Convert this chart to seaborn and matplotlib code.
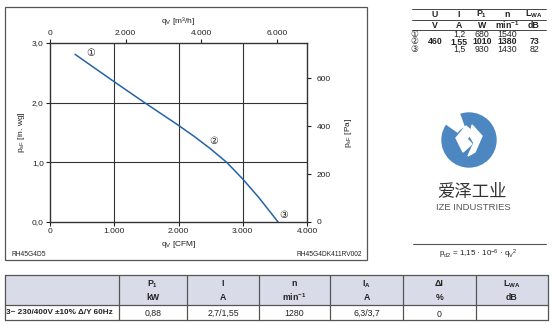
import numpy as np
import pandas as pd
import matplotlib
matplotlib.use("Agg")
import matplotlib.pyplot as plt
import seaborn as sns
from matplotlib.patches import Rectangle, Circle, Wedge, Polygon
from matplotlib.lines import Line2D

# ---------------- data ----------------
flow_cfm = [390, 1000, 1500, 2000, 2250, 2500, 2750, 3000, 3250, 3550]
pressure_inwg = [2.81, 2.35, 1.98, 1.62, 1.43, 1.225, 1.0, 0.72, 0.41, 0.0]

x_ticks_cfm = [0, 1000, 2000, 3000, 4000]
x_ticklabels_cfm = ["0", "1.000", "2.000", "3.000", "4.000"]
y_ticks_inwg = [0, 1, 2, 3]
y_ticklabels_inwg = ["0,0", "1,0", "2,0", "3,0"]
top_ticks_m3h = [0, 2000, 4000, 6000]
top_ticklabels_m3h = ["0", "2.000", "4.000", "6.000"]
right_ticks_pa = [0, 200, 400, 600]
right_ticklabels_pa = ["0", "200", "400", "600"]

point_labels = ["\u2460", "\u2461", "\u2462"]
point_label_cfm = [630, 2540, 3630]
point_label_inwg = [2.83, 1.36, 0.12]

tr_header = ["U", "I", r"P$_\mathregular{1}$", "n", r"L$_\mathregular{WA}$"]
tr_units = ["V", "A", "W", r"min$^\mathregular{-1}$", "dB"]
tr_rows = [
    ["", "1,2", "680", "1540", ""],
    ["460", "1,55", "1010", "1380", "73"],
    ["", "1,5", "930", "1430", "82"],
]

bt_header1 = ["", r"P$_\mathregular{1}$", "I", "n", r"I$_\mathregular{A}$", "\u0394I", r"L$_\mathregular{WA}$"]
bt_header2 = ["", "kW", "A", r"min$^\mathregular{-1}$", "A", "%", "dB"]
bt_row = ["3~ 230/400V \u00b110% \u0394/Y 60Hz", "0,88", "2,7/1,55", "1280", "6,3/3,7", "0", ""]

CFM_TO_M3H = 1.699
INWG_TO_PA = 249.09

# ---------------- figure ----------------
sns.set_style("white")
plt.rcParams["font.family"] = ["Liberation Sans", "DejaVu Sans", "Noto Sans CJK SC"]
plt.rcParams["mathtext.fontset"] = "custom"
plt.rcParams["mathtext.rm"] = "Liberation Sans"
plt.rcParams["mathtext.it"] = "Liberation Sans:italic"
plt.rcParams["mathtext.bf"] = "Liberation Sans:bold"
W, H = 553, 326
fig = plt.figure(figsize=(W / 100, H / 100), dpi=100)

# overlay in pixel coordinates
ov = fig.add_axes([0, 0, 1, 1], zorder=0)
ov.set_xlim(0, W)
ov.set_ylim(H, 0)
ov.axis("off")

TXT = "#222222"
FS = 6.0
TFS = 6.3

# main axes: pixels left 50, right 307, top 43, bottom 222
L, R, T, B = 50, 307, 43, 222
ax = fig.add_axes([L / W, (H - B) / H, (R - L) / W, (B - T) / H], zorder=2)
df = pd.DataFrame({"cfm": flow_cfm, "inwg": pressure_inwg})
sns.lineplot(data=df, x="cfm", y="inwg", ax=ax, color="#2463a5", linewidth=1.1, sort=False)
ax.set_xlim(0, 4000)
ax.set_ylim(0, 3)
ax.set_xticks(x_ticks_cfm)
ax.set_xticklabels(x_ticklabels_cfm)
ax.set_yticks(y_ticks_inwg)
ax.set_yticklabels(y_ticklabels_inwg)
ax.set_xlabel(r"q$_\mathregular{V}$ [CFM]", fontsize=FS, color=TXT, labelpad=3)
ax.set_ylabel(r"p$_\mathregular{sF}$ [in. wg]", fontsize=FS, color=TXT, labelpad=3.5)
ax.tick_params(axis="both", labelsize=FS, colors=TXT, length=3, width=0.8, pad=1.5, direction="out")
ax.tick_params(axis="x", bottom=True)
ax.tick_params(axis="y", left=True)
for v in [1000, 2000, 3000]:
    ax.axvline(v, color="#333333", linewidth=0.8, zorder=0)
for v in [1, 2]:
    ax.axhline(v, color="#333333", linewidth=0.8, zorder=0)
for s in ax.spines.values():
    s.set_color("#333333")
    s.set_linewidth(1.0)

for lab, xv, yv in zip(point_labels, point_label_cfm, point_label_inwg):
    ax.text(xv, yv, lab, fontsize=7, ha="center", va="center", color=TXT, family="DejaVu Sans")

top = ax.secondary_xaxis("top", functions=(lambda x: x * CFM_TO_M3H, lambda x: x / CFM_TO_M3H))
top.set_xticks(top_ticks_m3h)
top.set_xticklabels(top_ticklabels_m3h)
top.tick_params(labelsize=FS, colors=TXT, length=3, width=0.8, pad=1.5)
top.set_xlabel(r"q$_\mathregular{V}$ [m³/h]", fontsize=FS, color=TXT, labelpad=5)
top.spines["top"].set_visible(False)

right = ax.secondary_yaxis("right", functions=(lambda y: y * INWG_TO_PA, lambda y: y / INWG_TO_PA))
right.set_yticks(right_ticks_pa)
right.set_yticklabels(right_ticklabels_pa)
right.tick_params(labelsize=FS, colors=TXT, length=3, width=0.8, pad=4)
right.set_ylabel(r"p$_\mathregular{sF}$ [Pa]", fontsize=FS, color=TXT, labelpad=9)
right.spines["right"].set_visible(False)

# outer box
ov.add_patch(Rectangle((4.5, 7), 362.5, 253, fill=False, edgecolor="#555555", linewidth=0.9))
ov.text(12, 254, "RH45G4D5", fontsize=4.8, color=TXT, ha="left", va="center")
ov.text(362, 254, "RH45G4DK411RV002", fontsize=4.8, color=TXT, ha="right", va="center")

# top-right table
tcols = [435, 459, 482, 507, 534]
for y in [9, 20, 30]:
    ov.add_line(Line2D([412, 546], [y, y], color="#444444", linewidth=0.7))
for cx, h, u in zip(tcols, tr_header, tr_units):
    ov.text(cx, 14.5, h, fontsize=TFS, fontweight="bold", ha="center", va="center", color=TXT)
    ov.text(cx, 25.5, u, fontsize=TFS, fontweight="bold", ha="center", va="center", color=TXT)
row_y = [34.5, 42, 49.5]
for i, (ry, row) in enumerate(zip(row_y, tr_rows)):
    ov.text(414, ry, point_labels[i], fontsize=6.3, ha="center", va="center", color=TXT, family="DejaVu Sans")
    for cx, v in zip(tcols, row):
        ov.text(cx, ry, v, fontsize=TFS, ha="center", va="center", color=TXT,
                fontweight="bold" if i == 1 else "normal")

# logo
cx0, cy0, r0 = 469, 140, 27
blue = "#4d87c2"
ov.add_patch(Circle((cx0, cy0), r0, color=blue, zorder=1))
ov.add_patch(Wedge((cx0, cy0), r0 + 1, 215, 250, width=14, color="white", zorder=2))
ov.add_patch(Polygon([(cx0 - 13, cy0 - 2), (cx0 - 3, cy0 - 14), (cx0 + 4, cy0 - 8),
                      (cx0 - 2, cy0 - 1), (cx0 + 3, cy0 + 4), (cx0 - 6, cy0 + 12)],
                     closed=True, color="white", zorder=2))
ov.add_patch(Polygon([(cx0 + 3, cy0 - 15), (cx0 + 13, cy0 - 4), (cx0 + 6, cy0 + 12),
                      (cx0 - 1, cy0 + 16), (cx0 + 5, cy0 + 3), (cx0 + 1, cy0 - 4)],
                     closed=True, color="white", zorder=2))
ov.text(472, 192, "爱泽工业", fontsize=12.5, ha="center", va="center", color="#333333",
        family=["Noto Sans CJK SC", "DejaVu Sans"], fontweight="medium")
ov.text(473, 208, "IZE INDUSTRIES", fontsize=6.8, ha="center", va="center", color="#555555")
ov.add_line(Line2D([413, 546], [244, 244], color="#555555", linewidth=0.8))
ov.text(478, 254.5, r"p$_\mathregular{d2}$ = 1,15 · 10$^\mathregular{-6}$ · q$_\mathregular{V}$$^\mathregular{2}$",
        fontsize=5.8, ha="center", va="center", color=TXT)

# bottom table
bx = [5, 119, 187, 259, 330, 403, 476, 548]
bt_top, bt_mid, bt_bot = 275, 305, 320
ov.add_patch(Rectangle((bx[0], bt_top), bx[-1] - bx[0], bt_mid - bt_top,
                       facecolor="#d9dbe8", edgecolor="none", zorder=1))
for y in [bt_top, bt_mid, bt_bot]:
    ov.add_line(Line2D([bx[0], bx[-1]], [y, y], color="#555555", linewidth=0.9, zorder=3))
for xv in bx:
    ov.add_line(Line2D([xv, xv], [bt_top, bt_bot], color="#555555", linewidth=0.9, zorder=3))
for i in range(1, 7):
    cxm = (bx[i] + bx[i + 1]) / 2
    ov.text(cxm, 284, bt_header1[i], fontsize=TFS, fontweight="bold", ha="center", va="center", color=TXT, zorder=4)
    ov.text(cxm, 297.5, bt_header2[i], fontsize=TFS, fontweight="bold", ha="center", va="center", color=TXT, zorder=4)
ov.text(bx[0] + 1.5, 313, bt_row[0], fontsize=5.9, fontweight="bold", ha="left", va="center", color=TXT, zorder=4)
for i in range(1, 7):
    cxm = (bx[i] + bx[i + 1]) / 2
    ov.text(cxm, 313 if i != 5 else 314.5, bt_row[i], fontsize=TFS, ha="center", va="center", color=TXT, zorder=4)

fig.savefig("out.png", dpi=100)
